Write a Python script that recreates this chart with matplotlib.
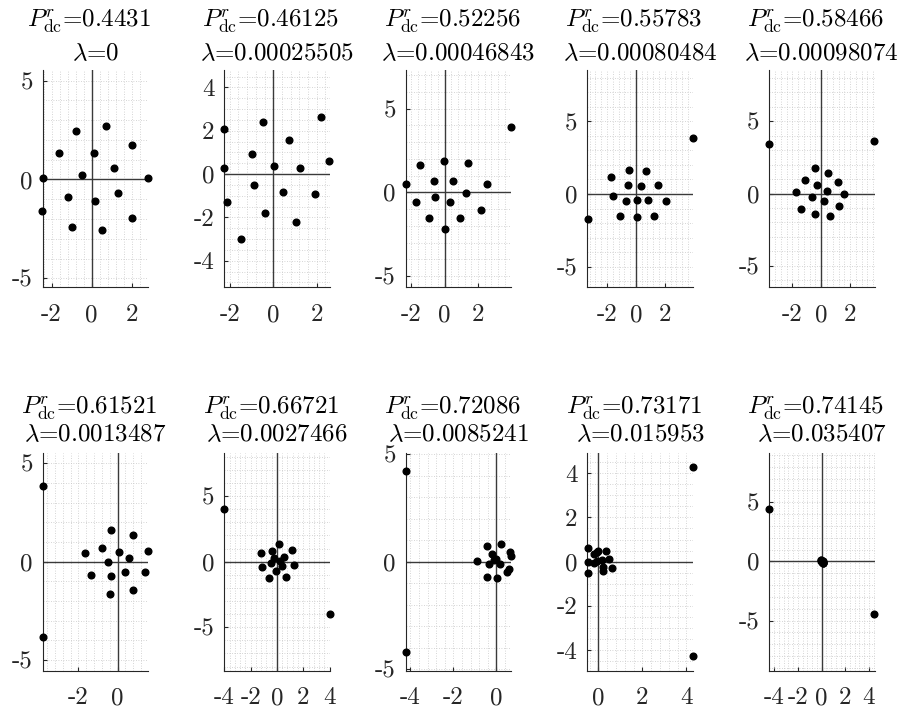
import matplotlib
matplotlib.use("Agg")
import matplotlib.pyplot as plt
from matplotlib.ticker import MultipleLocator

plt.rcParams['mathtext.fontset'] = 'cm'
plt.rcParams['axes.unicode_minus'] = False

pdc_values = ["0.4431", "0.46125", "0.52256", "0.55783", "0.58466",
              "0.61521", "0.66721", "0.72086", "0.73171", "0.74145"]
lambda_values = ["0", "0.00025505", "0.00046843", "0.00080484", "0.00098074",
                 "0.0013487", "0.0027466", "0.0085241", "0.015953", "0.035407"]

x1 = [-2.42, -2.47, -1.63, -0.80, -1.17, -0.97, -0.50, 0.13, 0.17, 0.73, 0.53, 1.12, 1.33, 2.02, 2.00, 2.80]
y1 = [0.10, -1.59, 1.33, 2.43, -0.88, -2.40, 0.24, 1.35, -1.11, 2.69, -2.57, 0.59, -0.68, 1.72, -1.94, 0.07]

x2 = [-2.26, -2.28, -2.12, -1.49, -1.00, -0.89, -0.48, -0.40, 0.03, 0.43, 0.72, 1.06, 1.23, 1.94, 2.20, 2.58]
y2 = [2.08, 0.29, -1.29, -3.02, 0.94, -0.51, 2.38, -1.80, 0.38, -0.82, 1.57, -2.20, 0.28, -0.94, 2.63, 0.62]

x3 = [-2.34, -1.74, -1.46, -0.96, -0.62, -0.60, -0.06, 0.02, 0.30, 0.52, 0.92, 1.28, 1.38, 2.16, 2.52, 3.98]
y3 = [0.52, -0.56, 1.65, -1.53, 0.68, -0.28, 1.85, -2.21, -0.56, 0.68, -1.51, -0.06, 1.75, -1.07, 0.52, 3.90]

x4 = [-3.33, -1.70, -1.56, -1.08, -0.69, -0.55, -0.48, 0.09, 0.09, 0.34, 0.67, 0.85, 1.26, 1.52, 2.09, 3.93]
y4 = [-1.70, 1.15, -0.11, -1.49, -0.46, 0.60, 1.66, -0.41, -1.56, 0.53, 1.56, -0.41, -1.52, 0.64, -0.46, 3.89]

x5 = [-3.63, 3.67, -1.76, -1.39, -1.15, -0.67, -0.44, -0.44, -0.28, 0.18, 0.42, 0.48, 0.58, 1.18, 1.25, 1.57]
y5 = [3.44, 3.63, 0.09, -1.06, 0.92, -0.25, 1.80, -1.45, 0.58, -0.51, 0.18, 1.43, -1.57, 0.81, -0.85, -0.02]

x6 = [-3.83, -3.83, -1.66, -1.36, -0.78, -0.51, -0.36, -0.34, -0.39, 0.05, 0.37, 0.56, 0.76, 0.76, 1.42, 1.53]
y6 = [3.85, -3.81, 0.46, -0.69, 0.71, -0.03, 1.58, -0.73, -1.64, 0.51, -0.54, 0.19, 1.37, -1.44, -0.51, 0.54]

x7 = [-4.02, 4.00, -1.20, -1.17, -0.59, -0.46, -0.36, -0.20, -0.05, 0.15, 0.25, 0.41, 0.56, 0.71, 1.15, 1.30]
y7 = [4.05, -4.02, 0.69, -0.38, -1.27, -0.13, 0.84, 0.28, -0.74, 1.37, 0.08, -0.31, 0.38, -1.17, 0.92, -0.23]

x8 = [-4.22, -4.22, -0.91, -0.43, -0.45, -0.36, -0.19, -0.09, 0.00, 0.02, 0.19, 0.23, 0.48, 0.57, 0.62, 0.67]
y8 = [4.23, -4.20, 0.02, 0.73, -0.73, -0.12, 0.36, 0.06, 0.12, -0.74, -0.09, 0.84, -0.48, -0.33, 0.43, 0.25]

x9 = [4.28, 4.28, -0.48, -0.48, -0.48, -0.18, -0.18, -0.08, 0.00, 0.15, 0.23, 0.23, 0.35, 0.48, 0.60, -0.08]
y9 = [4.30, -4.25, 0.60, 0.00, -0.50, 0.35, -0.08, 0.03, 0.48, 0.08, -0.41, -0.23, 0.48, 0.11, -0.27, 0.42]

x10 = [-4.45, 4.45, -0.08, -0.05, -0.02, 0.00, 0.02, 0.04, 0.06, 0.08, 0.10, 0.12, 0.14, 0.05, 0.09, 0.15]
y10 = [4.45, -4.45, 0.10, 0.06, 0.12, 0.03, -0.02, 0.05, -0.06, -0.03, -0.10, -0.08, -0.15, -0.09, 0.00, -0.12]

xs = [x1, x2, x3, x4, x5, x6, x7, x8, x9, x10]
ys = [y1, y2, y3, y4, y5, y6, y7, y8, y9, y10]

xlims = [(-2.45, 2.83), (-2.26, 2.6), (-2.34, 4.0), (-3.36, 3.95), (-3.63, 3.7),
         (-3.83, 1.56), (-4.02, 4.02), (-4.22, 0.7), (-0.5, 4.3), (-4.45, 4.48)]
ylims = [(-5.46, 5.54), (-5.23, 4.8), (-5.67, 7.3), (-6.44, 8.55), (-6.5, 8.55),
         (-5.54, 5.5), (-8.32, 8.27), (-5.07, 5.04), (-4.93, 4.9), (-9.24, 9.13)]
xticks = [[-2, 0, 2], [-2, 0, 2], [-2, 0, 2], [-2, 0, 2], [-2, 0, 2],
          [-2, 0], [-4, -2, 0, 2, 4], [-4, -2, 0], [0, 2, 4], [-4, -2, 0, 2, 4]]
yticks = [[-5, 0, 5], [-4, -2, 0, 2, 4], [-5, 0, 5], [-5, 0, 5], [-5, 0, 5],
          [-5, 0, 5], [-5, 0, 5], [-5, 0, 5], [-4, -2, 0, 2, 4], [-5, 0, 5]]

W, H = 908, 708
fig = plt.figure(figsize=(W / 100, H / 100), dpi=100)

axcol = '#262626'
tickfont = dict(family='cmr10', size=18)
px = 0.72  # points per pixel at 100 dpi

for i in range(10):
    row, col = divmod(i, 5)
    left_px = 42.5 + col * 181.6
    top_px = 70 if row == 0 else 453.3
    w_px, h_px = 105.7, 217.4
    ax = fig.add_axes([left_px / W, 1 - (top_px + h_px) / H, w_px / W, h_px / H])
    ax.set_xlim(*xlims[i])
    ax.set_ylim(*ylims[i])
    xstep = xticks[i][1] - xticks[i][0]
    ystep = yticks[i][1] - yticks[i][0]
    ax.xaxis.set_minor_locator(MultipleLocator(0.4 if xstep == 2 else 1))
    ax.yaxis.set_minor_locator(MultipleLocator(0.5 if ystep == 2 else 1))
    ax.grid(True, which='both', linestyle=(0, (1, 2)), color='#c8c8c8', linewidth=0.6)
    ax.tick_params(which='minor', length=0)
    ax.set_axisbelow(True)
    ax.axhline(0, color='#3a3a3a', linewidth=1.0, zorder=2)
    ax.axvline(0, color='#3a3a3a', linewidth=1.0, zorder=2)
    ax.plot(xs[i], ys[i], 'o', color='black', markersize=4.8, linestyle='none', zorder=3, clip_on=False)
    for s in ['top', 'right']:
        ax.spines[s].set_visible(False)
    for s in ['left', 'bottom']:
        ax.spines[s].set_color(axcol)
        ax.spines[s].set_linewidth(0.8)
    ax.set_xticks(xticks[i])
    ax.set_yticks(yticks[i])
    ax.set_xticklabels([str(v) for v in xticks[i]], fontdict=tickfont, color=axcol)
    ax.set_yticklabels([str(v) for v in yticks[i]], fontdict=tickfont, color=axcol)
    ax.tick_params(which='major', direction='in', length=3, width=0.8, color=axcol)
    ax.tick_params(axis='x', pad=12)
    ax.tick_params(axis='y', pad=7)

    base2, base1 = (10, 43) if row == 0 else (12, 39)
    ax.annotate(r"$\lambda$" + "=" + lambda_values[i], xy=(0.5, 1.0), xycoords='axes fraction',
                xytext=(0, base2 * px), textcoords='offset points',
                ha='center', va='baseline', fontsize=18, family='cmr10', color='black')
    ax.annotate(r"$P_{\mathrm{dc}}^{r}$" + "=" + pdc_values[i], xy=(0.5, 1.0), xycoords='axes fraction',
                xytext=(-6 * px, base1 * px), textcoords='offset points',
                ha='center', va='baseline', fontsize=18, family='cmr10', color='black')

fig.savefig("out.png", dpi=100)
